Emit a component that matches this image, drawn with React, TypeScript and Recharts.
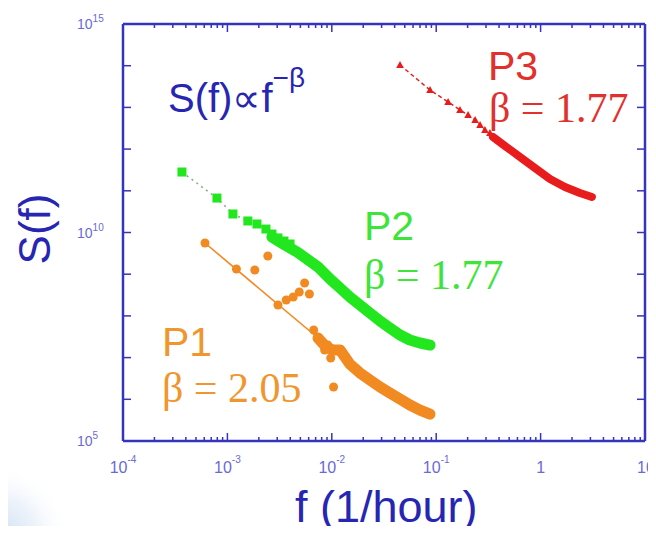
import React from "react";
import { ComposedChart, Scatter, XAxis, YAxis } from "recharts";

// axis ticks
const xMajorTicks = [1e-4, 1e-3, 1e-2, 1e-1, 1, 10];
const xTickBase = ["10", "10", "10", "10", "1", "10"];
const xTickExp = ["-4", "-3", "-2", "-1", "", ""];
const minorSteps = [2, 3, 4, 5, 6, 7, 8, 9];
const yTicks = [1e5, 1e6, 1e7, 1e8, 1e9, 1e10, 1e11, 1e12, 1e13, 1e14, 1e15];
const yLabelTicks = [1e5, 1e10, 1e15];
const yTickExp = ["5", "10", "15"];

// P1 (orange circles)
const p1Freq = [6.1e-4, 1.22e-3, 1.83e-3, 2.44e-3, 3.05e-3, 3.66e-3, 4.27e-3, 4.88e-3, 5.49e-3, 6.1e-3, 6.71e-3, 7.32e-3, 7.93e-3, 8.54e-3, 9.15e-3, 9.76e-3, 1.04e-2];
const p1Power = [5.6e9, 1.33e9, 1.26e9, 2.73e9, 1.82e8, 2.4e8, 2.84e8, 3.74e8, 6.15e8, 3.35e8, 4.6e7, 2.95e7, 2.37e7, 1.52e7, 2.0e7, 9.8e6, 1.97e6];
const p1BandFreq = [7.38e-3, 8.79e-3, 1.03e-2, 1.2e-2, 1.49e-2, 1.86e-2, 2.32e-2, 2.9e-2, 3.6e-2, 4.5e-2, 5.6e-2, 7.0e-2, 8.73e-2];
const p1BandPower = [2.95e7, 1.8e7, 1.52e7, 1.52e7, 7.0e6, 4.28e6, 2.9e6, 1.97e6, 1.42e6, 1.02e6, 7.3e5, 5.5e5, 4.4e5];
const p1FitFreq = [6.1e-4, 9.6e-3];
const p1FitPower = [5.6e9, 1.7e7];

// P2 (green squares)
const p2Freq = [3.67e-4, 7.94e-4, 1.13e-3, 1.57e-3, 1.92e-3, 2.34e-3, 2.67e-3, 3.05e-3, 3.48e-3, 3.98e-3];
const p2Power = [2.82e11, 6.7e10, 2.78e10, 1.89e10, 1.6e10, 1.21e10, 9.2e9, 7.4e9, 6.25e9, 5.3e9];
const p2BandFreq = [2.67e-3, 3.56e-3, 4.65e-3, 5.78e-3, 7.38e-3, 9.6e-3, 1.2e-2, 1.49e-2, 1.86e-2, 2.32e-2, 2.9e-2, 3.6e-2, 4.5e-2, 5.6e-2, 7.0e-2, 8.73e-2];
const p2BandPower = [7.8e9, 5.0e9, 3.4e9, 2.32e9, 1.49e9, 7.7e8, 4.67e8, 2.84e8, 1.82e8, 1.17e8, 7.55e7, 5.13e7, 3.48e7, 2.64e7, 2.24e7, 2.0e7];

// P3 (red triangles)
const p3Freq = [0.045, 0.0873, 0.13, 0.169, 0.202, 0.236, 0.263, 0.293, 0.327];
const p3Power = [1.04e14, 2.61e13, 1.35e13, 8.66e12, 6.57e12, 4.99e12, 3.78e12, 2.87e12, 2.43e12];
const p3BandFreq = [0.35, 0.456, 0.635, 0.883, 1.23, 1.71, 2.38, 3.1];
const p3BandPower = [1.95e12, 1.19e12, 6.47e11, 3.52e11, 1.92e11, 1.23e11, 8.85e10, 7.1e10];

const AXIS = "#3434bc";
const TICK_TEXT = "#6a6ad4";
const LABEL = "#2626b2";
const ORANGE = "#f28a22";
const GREEN = "#22e61e";
const RED = "#e81c1c";
const SANS = "'Liberation Sans', Arial, sans-serif";
const SERIF = "'Liberation Serif', 'Times New Roman', serif";

const toPoints = (fs: number[], ss: number[]) => fs.map((f, i) => ({ f, s: ss[i] }));

const xTicks = [
  ...xMajorTicks,
  ...xMajorTicks.slice(0, -1).flatMap((d) => minorSteps.map((m) => d * m)),
];

const majorIndex = (v: number, list: number[]) =>
  list.findIndex((m) => Math.abs(m - v) / m < 1e-6);

const BottomTick = (props: any) => {
  const { x, y, payload } = props;
  const i = majorIndex(payload.value, xMajorTicks);
  const major = i >= 0;
  const last = i === xMajorTicks.length - 1;
  return (
    <g>
      <line x1={x} x2={x} y1={y} y2={y - (major ? 8 : 4)} stroke={AXIS} strokeWidth={1.5} />
      {major && (
        <text
          x={last ? x - 8 : x}
          y={y + 32}
          textAnchor={last ? "start" : "middle"}
          fontSize={16}
          fontFamily={SANS}
          fill={TICK_TEXT}
        >
          {xTickBase[i]}
          {xTickExp[i] && (
            <tspan dy={-10} fontSize={10}>
              {xTickExp[i]}
            </tspan>
          )}
        </text>
      )}
    </g>
  );
};

const TopTick = (props: any) => {
  const { x, y, payload } = props;
  const major = majorIndex(payload.value, xMajorTicks) >= 0;
  return <line x1={x} x2={x} y1={y} y2={y + (major ? 8 : 4)} stroke={AXIS} strokeWidth={1.5} />;
};

const LeftTick = (props: any) => {
  const { x, y, payload } = props;
  const i = majorIndex(payload.value, yLabelTicks);
  return (
    <g>
      <line x1={x} x2={x + 8} y1={y} y2={y} stroke={AXIS} strokeWidth={1.5} />
      {i >= 0 && (
        <text x={x - 46} y={y + 5} fontSize={14} fontFamily={SANS} fill={TICK_TEXT}>
          10
          <tspan dy={-7} fontSize={10}>
            {yTickExp[i]}
          </tspan>
        </text>
      )}
    </g>
  );
};

const RightTick = (props: any) => {
  const { x, y } = props;
  return <line x1={x} x2={x - 8} y1={y} y2={y} stroke={AXIS} strokeWidth={1.5} />;
};

const Circle = (p: any) => <circle cx={p.cx} cy={p.cy} r={4.5} fill={ORANGE} />;
const Square = (p: any) => (
  <rect x={p.cx - 4.5} y={p.cy - 4.5} width={9} height={9} fill={GREEN} />
);
const Triangle = (p: any) => (
  <polygon
    points={`${p.cx},${p.cy - 4} ${p.cx - 3.8},${p.cy + 3} ${p.cx + 3.8},${p.cy + 3}`}
    fill={RED}
  />
);
const NoShape = () => <g />;

const band = (color: string, width: number) => ({
  stroke: color,
  strokeWidth: width,
  strokeLinecap: "round",
  strokeLinejoin: "round",
});

export default function App() {
  return (
    <div style={{ position: "relative", width: 656, height: 534, margin: -8, background: "#fff" }}>
      <ComposedChart width={656} height={534} margin={{ top: 20, right: 7, bottom: 53, left: 73 }}>
        <XAxis
          dataKey="f"
          type="number"
          scale="log"
          domain={[1e-4, 10]}
          allowDataOverflow
          ticks={xTicks}
          interval={0}
          tick={<BottomTick />}
          tickSize={0}
          tickMargin={0}
          tickLine={false}
          height={40}
          axisLine={{ stroke: AXIS, strokeWidth: 2.5 }}
        />
        <XAxis
          xAxisId="top"
          orientation="top"
          dataKey="f"
          type="number"
          scale="log"
          domain={[1e-4, 10]}
          allowDataOverflow
          ticks={xTicks}
          interval={0}
          tick={<TopTick />}
          tickSize={0}
          tickMargin={0}
          tickLine={false}
          height={4}
          axisLine={{ stroke: AXIS, strokeWidth: 2.5 }}
        />
        <YAxis
          dataKey="s"
          type="number"
          scale="log"
          domain={[1e5, 1e15]}
          allowDataOverflow
          ticks={yTicks}
          interval={0}
          tick={<LeftTick />}
          tickSize={0}
          tickMargin={0}
          tickLine={false}
          width={50}
          axisLine={{ stroke: AXIS, strokeWidth: 2.5 }}
        />
        <YAxis
          yAxisId="right"
          orientation="right"
          dataKey="s"
          type="number"
          scale="log"
          domain={[1e5, 1e15]}
          allowDataOverflow
          ticks={yTicks}
          interval={0}
          tick={<RightTick />}
          tickSize={0}
          tickMargin={0}
          tickLine={false}
          width={4}
          axisLine={{ stroke: AXIS, strokeWidth: 2.5 }}
        />

        <Scatter data={toPoints(p1FitFreq, p1FitPower)} fill={ORANGE} line={{ stroke: ORANGE, strokeWidth: 1.6 }} shape={NoShape} isAnimationActive={false} />
        <Scatter data={toPoints(p1BandFreq, p1BandPower)} fill={ORANGE} line={band(ORANGE, 11)} shape={NoShape} isAnimationActive={false} />
        <Scatter data={toPoints(p1Freq, p1Power)} fill={ORANGE} shape={Circle} isAnimationActive={false} />

        <Scatter data={toPoints(p2BandFreq, p2BandPower)} fill={GREEN} line={band(GREEN, 11)} shape={NoShape} isAnimationActive={false} />
        <Scatter data={toPoints(p2Freq, p2Power)} fill={GREEN} line={{ stroke: "#7fae7f", strokeWidth: 1.5, strokeDasharray: "2 4" }} shape={Square} isAnimationActive={false} />

        <Scatter data={toPoints(p3BandFreq, p3BandPower)} fill={RED} line={band(RED, 8)} shape={NoShape} isAnimationActive={false} />
        <Scatter data={toPoints(p3Freq, p3Power)} fill={RED} line={{ stroke: RED, strokeWidth: 1.5, strokeDasharray: "4 3" }} shape={Triangle} isAnimationActive={false} />
      </ComposedChart>

      <svg width={656} height={534} style={{ position: "absolute", left: 0, top: 0, pointerEvents: "none" }}>
        <defs>
          <radialGradient id="corner" cx="0" cy="534" r="70" gradientUnits="userSpaceOnUse">
            <stop offset="0" stopColor="#cfe0f3" />
            <stop offset="0.5" stopColor="#e4edf8" stopOpacity={0.7} />
            <stop offset="1" stopColor="#ffffff" stopOpacity={0} />
          </radialGradient>
        </defs>
        <rect x={0} y={460} width={70} height={74} fill="url(#corner)" />

        <text x={168} y={112} fontSize={40} fontFamily={SANS} fill={LABEL}>
          S(f)∝f
          <tspan dy={-25} fontSize={28}>
            −β
          </tspan>
        </text>

        <text x={488} y={80} fontSize={41} fontFamily={SANS} fill="#e2302c">P3</text>
        <text x={489} y={122} fontSize={42} fontFamily={SERIF} fill="#e2302c">β = 1.77</text>

        <text x={364} y={240} fontSize={41} fontFamily={SANS} fill="#3ee43a">P2</text>
        <text x={364} y={289} fontSize={42} fontFamily={SERIF} fill="#3ee43a">β = 1.77</text>

        <text x={162} y={356} fontSize={41} fontFamily={SANS} fill="#f0962e">P1</text>
        <text x={162} y={402} fontSize={42} fontFamily={SERIF} fill="#f0962e">β = 2.05</text>

        <text x={50} y={229} fontSize={44} fontFamily={SANS} fill={LABEL} textAnchor="middle" transform="rotate(-90 50 229)">
          S(f)
        </text>
        <text x={295} y={522} fontSize={45} fontFamily={SANS} fill={LABEL}>
          f (1/hour)
        </text>
      </svg>
    </div>
  );
}
